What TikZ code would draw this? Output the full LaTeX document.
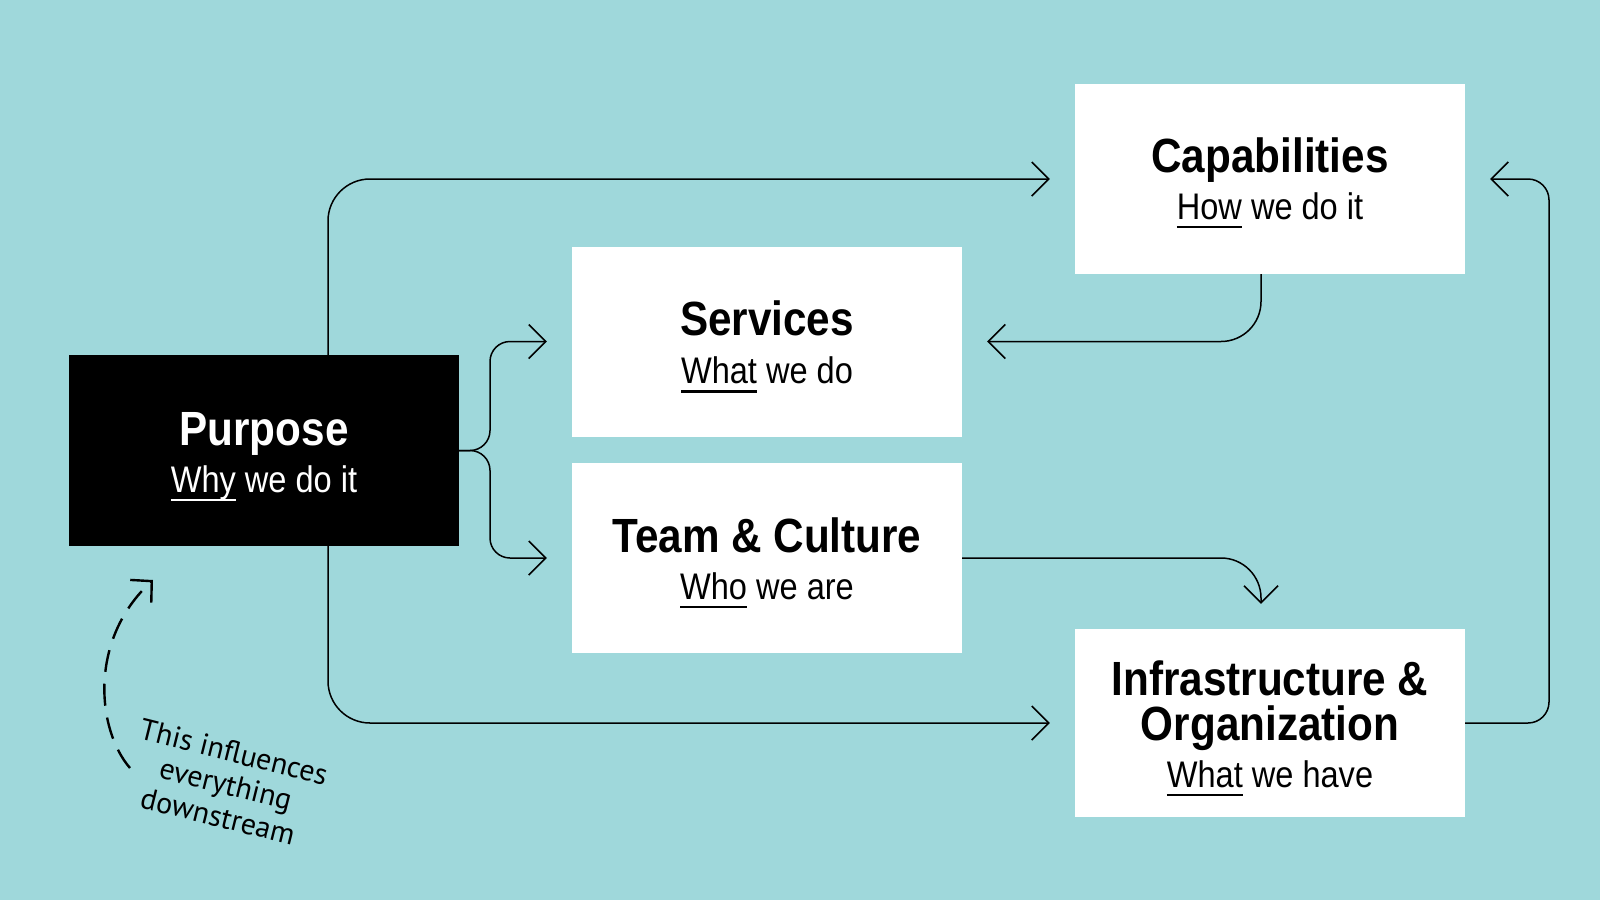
\documentclass[tikz,border=0pt]{standalone}
\usepackage{fontspec}
\setmainfont{Liberation Sans}[FakeStretch=0.88]
\newfontfamily\handfont{PT Sans}
\usetikzlibrary{arrows.meta}
\definecolor{bg}{RGB}{159,216,219}
\newsavebox\ulbox
\newcommand\ulw[1]{\sbox\ulbox{#1}\rlap{\rule[-9pt]{\wd\ulbox}{2.2pt}}\usebox\ulbox}
\begin{document}
\begin{tikzpicture}[x=1pt,y=-1pt,
  box/.style={rectangle, fill=white, minimum width=390pt, minimum height=190pt, inner sep=0pt},
  ttl/.style={font=\fontsize{48pt}{43pt}\selectfont\bfseries, anchor=base, inner sep=0pt},
  sub/.style={font=\fontsize{37pt}{40pt}\selectfont, anchor=base, inner sep=0pt},
  conn/.style={line width=1.5pt, line join=round, -{Straight Barb[length=17pt,width=34pt]}, shorten >=25pt},
  hand/.style={font=\handfont\fontsize{30pt}{33pt}\selectfont, align=center, rotate=-14, inner sep=0pt},
  dasharrow/.style={line width=2.4pt, dash pattern=on 22pt off 12pt, -{Straight Barb[length=15pt,width=31pt]}}
]
\fill[bg] (0,0) rectangle (1600,900);
\useasboundingbox (0,0) rectangle (1600,900);

% boxes
\node[box, fill=black, minimum height=191pt] (purpose) at (264,450.5) {};
\node[box] (services) at (767,341.5) {};
\node[box] (team) at (767,558) {};
\node[box] (cap) at (1270,179) {};
\node[box, minimum height=188pt] (infra) at (1270,723) {};

% texts
\node[ttl, text=white] (purposeT) at ([yshift=5.5pt]purpose.center) {Purpose};
\node[sub, text=white] (purposeS) at ([yshift=-41.5pt]purpose.center) {\ulw{Why} we do it};
\node[ttl] (servicesT) at ([yshift=6.5pt]services.center) {Services};
\node[sub] (servicesS) at ([yshift=-42pt]services.center) {\ulw{What} we do};
\node[ttl] (teamT) at ([yshift=6pt]team.center) {Team \& Culture};
\node[sub] (teamS) at ([yshift=-41pt]team.center) {\ulw{Who} we are};
\node[ttl] (capT) at ([yshift=7pt]cap.center) {Capabilities};
\node[sub] (capS) at ([yshift=-40pt]cap.center) {\ulw{How} we do it};
\node[ttl] (infraT1) at ([yshift=28pt]infra.center) {Infrastructure \&};
\node[ttl] (infraT2) at ([yshift=-17pt]infra.center) {Organization};
\node[sub] (infraS) at ([yshift=-64pt]infra.center) {\ulw{What} we have};

% connectors
\draw[conn, rounded corners=42pt] ([xshift=64pt]purpose.north) |- (cap.west);
\draw[conn, rounded corners=42pt] ([xshift=64pt]purpose.south) |- (infra.west);
\coordinate (bx) at (490,450);
\draw[conn, rounded corners=20pt] (purpose.east) -| (bx |- services.west) -- (services.west);
\draw[conn, rounded corners=20pt] (purpose.east) -| (bx |- team.west) -- (team.west);
\draw[conn, rounded corners=40pt] ([xshift=-9pt]cap.south) |- (services.east);
\draw[conn, rounded corners=40pt] (team.east) -| ([xshift=-9pt]infra.north);
\coordinate (rx) at (1549,450);
\draw[conn, rounded corners=21pt] (infra.east) -| (rx |- cap.east) -- (cap.east);

% note
\node[hand] (note) at (226,784) {This influences\\everything\\downstream};
\coordinate (dashS) at (130,768);
\coordinate (dashE) at (153,580);
\draw[dasharrow] (dashS) .. controls (97,730) and (88,640) .. (dashE);
\end{tikzpicture}
\end{document}
